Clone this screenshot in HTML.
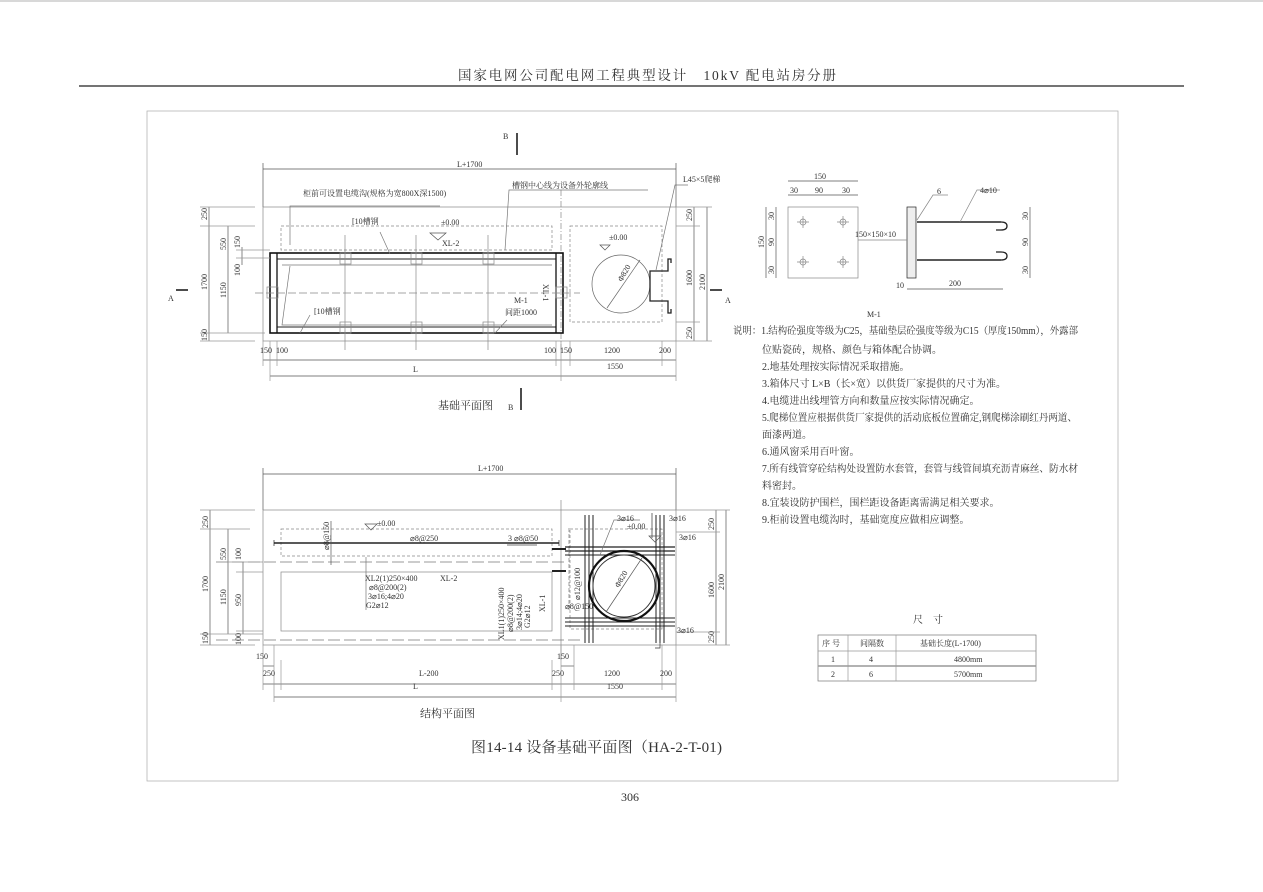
<!DOCTYPE html>
<html><head><meta charset="utf-8"><style>
html,body{margin:0;padding:0;background:#fff;}
svg{display:block;}
text{font-family:"Liberation Serif","Noto Serif CJK SC","Noto Sans CJK SC",serif;fill:#333;}
.s{font-size:8px;}
.m{font-size:9px;}
</style></head><body>
<svg width="1263" height="892" viewBox="0 0 1263 892" xmlns="http://www.w3.org/2000/svg">
<g fill="none" stroke="#555" stroke-width="0.7">
<line x1="0" y1="1" x2="1263" y2="1" stroke="#999"/>
<line x1="79" y1="86" x2="1184" y2="86" stroke="#222" stroke-width="1.2"/>
<rect x="147" y="111" width="971" height="670" stroke="#aaa"/>

<!-- ===== TOP PLAN ===== -->
<line x1="263" y1="169" x2="676" y2="169"/>
<line x1="263" y1="163" x2="263" y2="207"/><line x1="676" y1="163" x2="676" y2="207"/>
<rect x="263" y="207" width="413" height="134" stroke="#888"/>
<line x1="561" y1="190" x2="561" y2="350" stroke-dasharray="6 2 1 2" stroke="#888"/>
<rect x="281" y="226" width="271" height="24" stroke-dasharray="3 2" stroke="#888"/>
<rect x="570" y="226" width="92" height="96" stroke-dasharray="3 2" stroke="#888"/>
<!-- steel frame -->
<rect x="270" y="253" width="293" height="80" stroke="#111" stroke-width="1.6"/>
<rect x="277" y="259" width="279" height="68" stroke="#222" stroke-width="1"/>
<line x1="277" y1="253" x2="277" y2="333" stroke="#111" stroke-width="1.3"/>
<line x1="556" y1="253" x2="556" y2="333" stroke="#111" stroke-width="1.3"/>
<polyline points="282,265 552,265" stroke="#777"/>
<polyline points="290,266 282,325 552,325" stroke="#777"/>
<g stroke="#888">
<line x1="345" y1="235" x2="345" y2="350"/><line x1="416" y1="235" x2="416" y2="350"/><line x1="488" y1="235" x2="488" y2="350"/>
<rect x="340" y="253" width="11" height="11"/><rect x="411" y="253" width="11" height="11"/><rect x="483" y="253" width="11" height="11"/>
<rect x="340" y="322" width="11" height="11"/><rect x="411" y="322" width="11" height="11"/><rect x="483" y="322" width="11" height="11"/>
<rect x="267" y="287" width="11" height="11"/><rect x="556" y="287" width="11" height="11"/>
<line x1="255" y1="293" x2="580" y2="293" stroke-dasharray="8 3"/>
</g>
<circle cx="621" cy="284" r="29" stroke="#666"/>
<line x1="607" y1="308" x2="640" y2="260" stroke="#666"/>
<path d="M671,263 v-4 h-3 v12 h-18 v30 h18 v12 h3 v-4 M650,271 v30" stroke="#222" stroke-width="1.3"/>
<!-- leaders -->
<polyline points="290,245 290,206 300,206 440,206" stroke="#777"/>
<polyline points="505,250 509,190 648,190" stroke="#777"/>
<polyline points="656,270 675,185 688,185" stroke="#777"/>
<line x1="380" y1="232" x2="390" y2="254" stroke="#777"/>
<line x1="310" y1="315" x2="300" y2="333" stroke="#777"/>
<line x1="507" y1="320" x2="495" y2="333" stroke="#777"/>
<path d="M430,233 l8,7 l8,-7 z M600,245 l5,5 l5,-5 z" stroke="#555"/>
<!-- left dims -->
<line x1="209" y1="207" x2="209" y2="341"/><line x1="228" y1="226" x2="228" y2="333"/><line x1="242" y1="247" x2="242" y2="265"/>
<g stroke="#999"><line x1="200" y1="207" x2="255" y2="207"/><line x1="200" y1="226" x2="255" y2="226"/><line x1="200" y1="333" x2="265" y2="333"/><line x1="200" y1="341" x2="255" y2="341"/><line x1="236" y1="250" x2="270" y2="250"/><line x1="236" y1="258" x2="270" y2="258"/></g>
<!-- right dims -->
<line x1="694" y1="207" x2="694" y2="341"/><line x1="707" y1="207" x2="707" y2="341"/>
<g stroke="#999"><line x1="676" y1="207" x2="712" y2="207"/><line x1="676" y1="226" x2="700" y2="226"/><line x1="676" y1="322" x2="700" y2="322"/><line x1="676" y1="341" x2="712" y2="341"/></g>
<!-- bottom dims -->
<line x1="263" y1="360" x2="676" y2="360"/><line x1="270" y1="376" x2="676" y2="376"/>
<g stroke="#999"><line x1="263" y1="341" x2="263" y2="366"/><line x1="270" y1="341" x2="270" y2="381"/><line x1="277" y1="341" x2="277" y2="366"/><line x1="556" y1="341" x2="556" y2="366"/><line x1="561" y1="341" x2="561" y2="381"/><line x1="570" y1="341" x2="570" y2="366"/><line x1="662" y1="341" x2="662" y2="366"/><line x1="676" y1="341" x2="676" y2="381"/></g>
<!-- section marks -->
<g stroke="#111" stroke-width="1.5"><line x1="517" y1="133" x2="517" y2="155"/><line x1="521" y1="388" x2="521" y2="410"/><line x1="176" y1="290" x2="188" y2="290"/><line x1="710" y1="290" x2="722" y2="290"/></g>

<!-- ===== BOTTOM PLAN ===== -->
<line x1="263" y1="474" x2="676" y2="474"/>
<line x1="263" y1="468" x2="263" y2="510"/><line x1="676" y1="468" x2="676" y2="510"/>
<rect x="263" y="510" width="413" height="135" stroke="#888"/>
<line x1="561" y1="500" x2="561" y2="660" stroke="#888"/>
<rect x="281" y="529" width="271" height="27" stroke-dasharray="3 2" stroke="#888"/>
<rect x="281" y="572" width="271" height="59" stroke="#888"/>
<line x1="216" y1="562" x2="565" y2="562" stroke-dasharray="12 4" stroke="#777"/>
<line x1="216" y1="640" x2="580" y2="640" stroke-dasharray="12 4" stroke="#777"/>
<line x1="274" y1="543" x2="559" y2="543" stroke="#222" stroke-width="1.5"/>
<line x1="274" y1="540" x2="274" y2="546" stroke="#222"/><line x1="559" y1="540" x2="559" y2="546" stroke="#222"/>
<line x1="331" y1="521" x2="331" y2="565" stroke="#555"/>
<line x1="366" y1="557" x2="366" y2="610" stroke="#777"/>
<line x1="507" y1="545" x2="537" y2="545" stroke="#444"/>
<line x1="569" y1="528" x2="569" y2="610" stroke="#777" stroke-dasharray="4 2"/>
<rect x="570" y="529" width="92" height="100" stroke-dasharray="3 2" stroke="#888"/>
<g stroke="#222" stroke-width="1">
<line x1="585" y1="515" x2="585" y2="643"/><line x1="589" y1="515" x2="589" y2="643"/><line x1="593" y1="515" x2="593" y2="643"/>
<line x1="656" y1="515" x2="656" y2="643"/><line x1="660" y1="515" x2="660" y2="643"/><line x1="664" y1="515" x2="664" y2="643"/>
<line x1="565" y1="547" x2="675" y2="547" stroke-width="1.3"/><line x1="565" y1="551" x2="675" y2="551" stroke-width="1.3"/><line x1="565" y1="555" x2="675" y2="555"/>
<line x1="565" y1="618" x2="675" y2="618"/><line x1="565" y1="622" x2="675" y2="622"/><line x1="565" y1="626" x2="675" y2="626"/>
<line x1="552" y1="549" x2="566" y2="549" stroke-width="2"/><line x1="552" y1="571" x2="566" y2="571" stroke-width="2"/>
</g>
<circle cx="624" cy="586" r="35" stroke="#111" stroke-width="2.2"/>
<circle cx="624" cy="586" r="31" stroke="#333" stroke-width="1"/>
<line x1="606" y1="612" x2="642" y2="558" stroke="#555"/>
<path d="M660,640 v8 h-5 M652,513 v25" stroke="#333"/>
<polyline points="600,555 614,520 640,520" stroke="#777"/>
<path d="M649,536 l6,6 l6,-6 z" stroke="#555"/>
<path d="M365,524 l6,6 l6,-6 z" stroke="#555"/>
<!-- dims -->
<line x1="210" y1="510" x2="210" y2="645"/><line x1="228" y1="529" x2="228" y2="634"/><line x1="243" y1="562" x2="243" y2="634"/>
<g stroke="#999"><line x1="200" y1="510" x2="255" y2="510"/><line x1="200" y1="529" x2="250" y2="529"/><line x1="220" y1="562" x2="263" y2="562"/><line x1="236" y1="572" x2="263" y2="572"/><line x1="236" y1="631" x2="263" y2="631"/><line x1="200" y1="634" x2="263" y2="634"/><line x1="200" y1="645" x2="255" y2="645"/></g>
<line x1="716" y1="510" x2="716" y2="645"/><line x1="726" y1="510" x2="726" y2="645"/>
<g stroke="#999"><line x1="676" y1="510" x2="730" y2="510"/><line x1="676" y1="532" x2="720" y2="532"/><line x1="676" y1="632" x2="720" y2="632"/><line x1="676" y1="645" x2="730" y2="645"/></g>
<line x1="263" y1="666" x2="274" y2="666"/><line x1="561" y1="666" x2="574" y2="666"/>
<line x1="263" y1="684" x2="676" y2="684"/><line x1="274" y1="697" x2="676" y2="697"/>
<g stroke="#999"><line x1="263" y1="645" x2="263" y2="690"/><line x1="274" y1="645" x2="274" y2="702"/><line x1="281" y1="660" x2="281" y2="690"/><line x1="552" y1="660" x2="552" y2="690"/><line x1="561" y1="645" x2="561" y2="702"/><line x1="574" y1="645" x2="574" y2="690"/><line x1="662" y1="645" x2="662" y2="690"/><line x1="676" y1="645" x2="676" y2="702"/></g>

<!-- ===== M-1 detail ===== -->
<rect x="788" y="207" width="70" height="71" stroke="#888"/>
<g stroke="#888"><circle cx="803" cy="222" r="3"/><circle cx="843" cy="222" r="3"/><circle cx="803" cy="262" r="3"/><circle cx="843" cy="262" r="3"/>
<path d="M797,222h12M803,216v12M837,222h12M843,216v12M797,262h12M803,256v12M837,262h12M843,256v12"/></g>
<line x1="788" y1="181" x2="858" y2="181"/><line x1="788" y1="195" x2="858" y2="195"/>
<line x1="766" y1="207" x2="766" y2="278"/><line x1="776" y1="207" x2="776" y2="278"/>
<rect x="907" y="207" width="9" height="71" stroke="#222" fill="#eee"/>
<g stroke="#222" stroke-width="1.6"><line x1="917" y1="222" x2="1001" y2="222"/><line x1="917" y1="260" x2="1001" y2="260"/></g>
<path d="M1001,222 q6,0 6,4 q0,4 -6,4 h-5 M1001,260 q6,0 6,-4 q0,-4 -6,-4 h-5" stroke="#222" stroke-width="1.3"/>
<line x1="858" y1="240" x2="907" y2="240" stroke="#888"/>
<polyline points="917,220 933,195 948,195" stroke="#888"/>
<polyline points="960,222 977,190 1000,190" stroke="#888"/>
<line x1="1030" y1="207" x2="1030" y2="278"/>
<line x1="907" y1="289" x2="1003" y2="289"/>

<!-- table -->
<rect x="818" y="635" width="218" height="46" stroke="#777"/>
<g stroke="#999"><line x1="818" y1="651" x2="1036" y2="651"/><line x1="818" y1="666" x2="1036" y2="666" stroke-width="1.5"/><line x1="848" y1="635" x2="848" y2="681"/><line x1="896" y1="635" x2="896" y2="681"/></g>
</g>

<!-- ===== TEXT ===== -->
<text x="458" y="80" style="font-size:13.5px" textLength="378">国家电网公司配电网工程典型设计　10kV 配电站房分册</text>
<text x="471" y="752" style="font-size:15px" textLength="251">图14-14 设备基础平面图（HA-2-T-01)</text>
<text x="621" y="801" style="font-size:12px">306</text>

<text x="457" y="167" class="s">L+1700</text>
<text x="303" y="196" class="s">柜前可设置电缆沟(规格为宽800X深1500)</text>
<text x="512" y="188" class="s">槽钢中心线为设备外轮廓线</text>
<text x="683" y="182" class="s">L45×5爬梯</text>
<text x="352" y="224" class="s">[10槽钢</text>
<text x="441" y="225" class="s">±0.00</text>
<text x="442" y="246" class="s">XL-2</text>
<text x="609" y="240" class="s">±0.00</text>
<text x="314" y="314" class="s">[10槽钢</text>
<text x="514" y="303" class="s">M-1</text>
<text x="505" y="315" class="s">间距1000</text>
<text x="503" y="139" class="s">B</text>
<text x="508" y="410" class="s">B</text>
<text x="168" y="301" class="s">A</text>
<text x="725" y="303" class="s">A</text>
<text x="438" y="409" style="font-size:11px">基础平面图</text>
<text x="260" y="353" class="s">150</text><text x="276" y="353" class="s">100</text>
<text x="544" y="353" class="s">100</text><text x="560" y="353" class="s">150</text>
<text x="604" y="353" class="s">1200</text><text x="659" y="353" class="s">200</text>
<text x="413" y="372" class="s">L</text><text x="607" y="369" class="s">1550</text>
<g class="s">
<text transform="translate(207,220) rotate(-90)">250</text>
<text transform="translate(207,290) rotate(-90)">1700</text>
<text transform="translate(207,341) rotate(-90)">150</text>
<text transform="translate(226,250) rotate(-90)">550</text>
<text transform="translate(226,298) rotate(-90)">1150</text>
<text transform="translate(240,248) rotate(-90)">150</text>
<text transform="translate(240,276) rotate(-90)">100</text>
<text transform="translate(692,221) rotate(-90)">250</text>
<text transform="translate(692,286) rotate(-90)">1600</text>
<text transform="translate(692,339) rotate(-90)">250</text>
<text transform="translate(705,290) rotate(-90)">2100</text>
<text transform="translate(622,282) rotate(-60)">Φ820</text>
<text transform="translate(543,284) rotate(90)">XL-1</text>
</g>

<text x="478" y="471" class="s">L+1700</text>
<text x="377" y="526" class="s">±0.00</text>
<text x="410" y="541" class="s">⌀8@250</text>
<text x="508" y="541" class="s">3 ⌀8@50</text>
<text x="365" y="581" class="s">XL2(1)250×400</text>
<text x="369" y="590" class="s">⌀8@200(2)</text>
<text x="368" y="599" class="s">3⌀16;4⌀20</text>
<text x="366" y="608" class="s">G2⌀12</text>
<text x="440" y="581" class="s">XL-2</text>
<text x="617" y="521" class="s">3⌀16</text>
<text x="627" y="529" class="s">±0.00</text>
<text x="669" y="521" class="s">3⌀16</text>
<text x="679" y="540" class="s">3⌀16</text>
<text x="677" y="633" class="s">3⌀16</text>
<text x="565" y="609" class="s">⌀8@150</text>
<text x="256" y="659" class="s">150</text><text x="557" y="659" class="s">150</text>
<text x="263" y="676" class="s">250</text><text x="419" y="676" class="s">L-200</text>
<text x="552" y="676" class="s">250</text><text x="604" y="676" class="s">1200</text><text x="660" y="676" class="s">200</text>
<text x="413" y="689" class="s">L</text><text x="607" y="689" class="s">1550</text>
<text x="420" y="717" style="font-size:11px">结构平面图</text>
<g class="s">
<text transform="translate(208,528) rotate(-90)">250</text>
<text transform="translate(208,592) rotate(-90)">1700</text>
<text transform="translate(208,644) rotate(-90)">150</text>
<text transform="translate(226,560) rotate(-90)">550</text>
<text transform="translate(226,605) rotate(-90)">1150</text>
<text transform="translate(241,560) rotate(-90)">100</text>
<text transform="translate(241,606) rotate(-90)">950</text>
<text transform="translate(241,645) rotate(-90)">100</text>
<text transform="translate(329,550) rotate(-90)">⌀8@150</text>
<text transform="translate(580,600) rotate(-90)">⌀12@100</text>
<text transform="translate(714,530) rotate(-90)">250</text>
<text transform="translate(714,598) rotate(-90)">1600</text>
<text transform="translate(714,643) rotate(-90)">250</text>
<text transform="translate(724,590) rotate(-90)">2100</text>
<text transform="translate(619,588) rotate(-60)">Φ820</text>
<text transform="translate(504,640) rotate(-90)">XL1(1)250×400</text>
<text transform="translate(513,632) rotate(-90)">⌀8@200(2)</text>
<text transform="translate(522,630) rotate(-90)">3⌀14;4⌀20</text>
<text transform="translate(530,628) rotate(-90)">G2⌀12</text>
<text transform="translate(545,612) rotate(-90)">XL-1</text>
</g>

<text x="814" y="179" class="s">150</text>
<text x="790" y="193" class="s">30</text><text x="815" y="193" class="s">90</text><text x="842" y="193" class="s">30</text>
<text transform="translate(764,248) rotate(-90)" class="s">150</text>
<text transform="translate(774,220) rotate(-90)" class="s">30</text>
<text transform="translate(774,246) rotate(-90)" class="s">90</text>
<text transform="translate(774,274) rotate(-90)" class="s">30</text>
<text transform="translate(1028,220) rotate(-90)" class="s">30</text>
<text transform="translate(1028,246) rotate(-90)" class="s">90</text>
<text transform="translate(1028,274) rotate(-90)" class="s">30</text>
<text x="855" y="237" class="s">150×150×10</text>
<text x="937" y="194" class="s">6</text>
<text x="980" y="193" class="s">4⌀10</text>
<text x="896" y="288" class="s">10</text>
<text x="949" y="286" class="s">200</text>
<text x="867" y="317" class="s">M-1</text>

<g style="font-size:10px">
<text x="733" y="334" textLength="345" lengthAdjust="spacingAndGlyphs">说明：1.结构砼强度等级为C25，基础垫层砼强度等级为C15（厚度150mm），外露部</text>
<text x="762" y="353">位贴瓷砖，规格、颜色与箱体配合协调。</text>
<text x="762" y="370">2.地基处理按实际情况采取措施。</text>
<text x="762" y="387">3.箱体尺寸 L×B（长×宽）以供货厂家提供的尺寸为准。</text>
<text x="762" y="404">4.电缆进出线埋管方向和数量应按实际情况确定。</text>
<text x="762" y="421" textLength="315" lengthAdjust="spacingAndGlyphs">5.爬梯位置应根据供货厂家提供的活动底板位置确定,钢爬梯涂刷红丹两道、</text>
<text x="762" y="438">面漆两道。</text>
<text x="762" y="455">6.通风窗采用百叶窗。</text>
<text x="762" y="472" textLength="316" lengthAdjust="spacingAndGlyphs">7.所有线管穿砼结构处设置防水套管，套管与线管间填充沥青麻丝、防水材</text>
<text x="762" y="489">料密封。</text>
<text x="762" y="506">8.宜装设防护围栏，围栏距设备距离需满足相关要求。</text>
<text x="762" y="523">9.柜前设置电缆沟时，基础宽度应做相应调整。</text>
</g>

<text x="913" y="623" style="font-size:10px">尺　寸</text>
<text x="822" y="646" class="s">序 号</text><text x="860" y="646" class="s">间隔数</text><text x="920" y="646" class="s">基础长度(L-1700)</text>
<text x="831" y="662" class="s">1</text><text x="869" y="662" class="s">4</text><text x="954" y="662" class="s">4800mm</text>
<text x="831" y="677" class="s">2</text><text x="869" y="677" class="s">6</text><text x="954" y="677" class="s">5700mm</text>
</svg>
</body></html>
